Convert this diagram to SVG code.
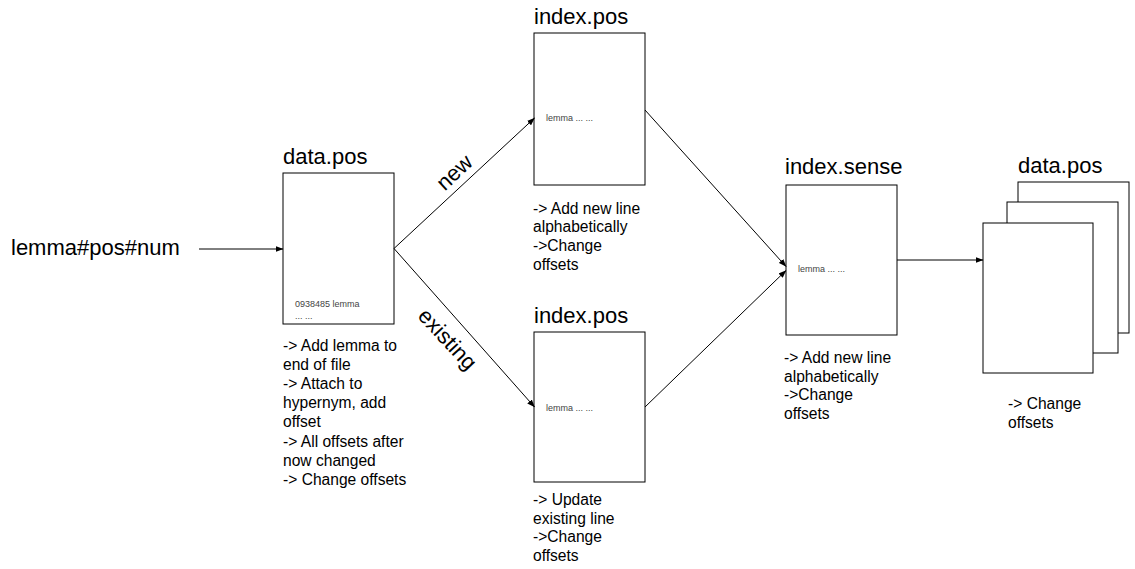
<svg xmlns="http://www.w3.org/2000/svg" width="1135" height="569" viewBox="0 0 1135 569">
<defs>
<marker id="ah" markerWidth="8" markerHeight="6" refX="7.5" refY="3" orient="auto" markerUnits="userSpaceOnUse">
<path d="M0,0 L8,3 L0,6 Z" fill="#000"/>
</marker>
<style>
.box{fill:#fff;stroke:#000;stroke-width:1}
.title{font-family:"Liberation Sans",Arial,sans-serif;font-size:22px;fill:#000}
.desc{font-family:"Liberation Sans",Arial,sans-serif;font-size:15.6px;fill:#000}
.inner{font-family:"Liberation Sans",Arial,sans-serif;font-size:9px;fill:#444}
.edge{fill:none;stroke:#000;stroke-width:1}
.elabel{font-family:"Liberation Sans",Arial,sans-serif;font-size:22px;fill:#000;text-anchor:middle}
</style>
</defs>
<rect width="1135" height="569" fill="#fff"/>

<g id="input">
<text class="title" x="11" y="255">lemma#pos#num</text>
</g>

<g id="data-pos">
<text class="title" x="283" y="164">data.pos</text>
<rect class="box" x="283" y="173" width="111" height="151"/>
<text class="inner" x="295" y="307">0938485 lemma</text>
<text class="inner" x="295" y="319">... ...</text>
<text class="desc" x="283" y="350.5">-&gt; Add lemma to</text>
<text class="desc" x="283" y="369.7">end of file</text>
<text class="desc" x="283" y="388.9">-&gt; Attach to</text>
<text class="desc" x="283" y="408.1">hypernym, add</text>
<text class="desc" x="283" y="427.3">offset</text>
<text class="desc" x="283" y="446.5">-&gt; All offsets after</text>
<text class="desc" x="283" y="465.7">now changed</text>
<text class="desc" x="283" y="484.9">-&gt; Change offsets</text>
</g>

<g id="index-pos-new">
<text class="title" x="534" y="24">index.pos</text>
<rect class="box" x="534" y="33" width="111" height="152"/>
<text class="inner" x="546" y="121">lemma ... ...</text>
<text class="desc" x="533" y="213.5">-&gt; Add new line</text>
<text class="desc" x="533" y="232.3">alphabetically</text>
<text class="desc" x="533" y="251.1">-&gt;Change</text>
<text class="desc" x="533" y="269.9">offsets</text>
</g>

<g id="index-pos-existing">
<text class="title" x="534" y="323">index.pos</text>
<rect class="box" x="534" y="332" width="111" height="150"/>
<text class="inner" x="546" y="411">lemma ... ...</text>
<text class="desc" x="533" y="505">-&gt; Update</text>
<text class="desc" x="533" y="523.7">existing line</text>
<text class="desc" x="533" y="542.4">-&gt;Change</text>
<text class="desc" x="533" y="561.1">offsets</text>
</g>

<g id="index-sense">
<text class="title" x="785" y="174">index.sense</text>
<rect class="box" x="786" y="185" width="111" height="150"/>
<text class="inner" x="798" y="272">lemma ... ...</text>
<text class="desc" x="784" y="362.7">-&gt; Add new line</text>
<text class="desc" x="784" y="381.5">alphabetically</text>
<text class="desc" x="784" y="400.3">-&gt;Change</text>
<text class="desc" x="784" y="419.1">offsets</text>
</g>

<g id="data-pos-stack">
<text class="title" x="1018" y="173">data.pos</text>
<rect class="box" x="1018" y="182" width="111" height="151"/>
<rect class="box" x="1007" y="202" width="111" height="151"/>
<rect class="box" x="983" y="223" width="110" height="150"/>
<text class="desc" x="1008" y="409.3">-&gt; Change</text>
<text class="desc" x="1008" y="428">offsets</text>
</g>

<g id="connectors">
<line class="edge" x1="199" y1="249" x2="283" y2="249" marker-end="url(#ah)"/>
<line class="edge" x1="394" y1="248.5" x2="534.5" y2="118" marker-end="url(#ah)"/>
<line class="edge" x1="394" y1="248.5" x2="534.5" y2="407" marker-end="url(#ah)"/>
<line class="edge" x1="645" y1="110" x2="786" y2="266.5" marker-end="url(#ah)"/>
<line class="edge" x1="645" y1="407" x2="786" y2="270.5" marker-end="url(#ah)"/>
<line class="edge" x1="897" y1="260" x2="983" y2="260" marker-end="url(#ah)"/>
<text class="elabel" transform="translate(455.5,173.5) rotate(-43)" x="0" y="5.7">new</text>
<text class="elabel" transform="translate(446.5,340) rotate(47)" x="0" y="6">existing</text>
</g>
</svg>
